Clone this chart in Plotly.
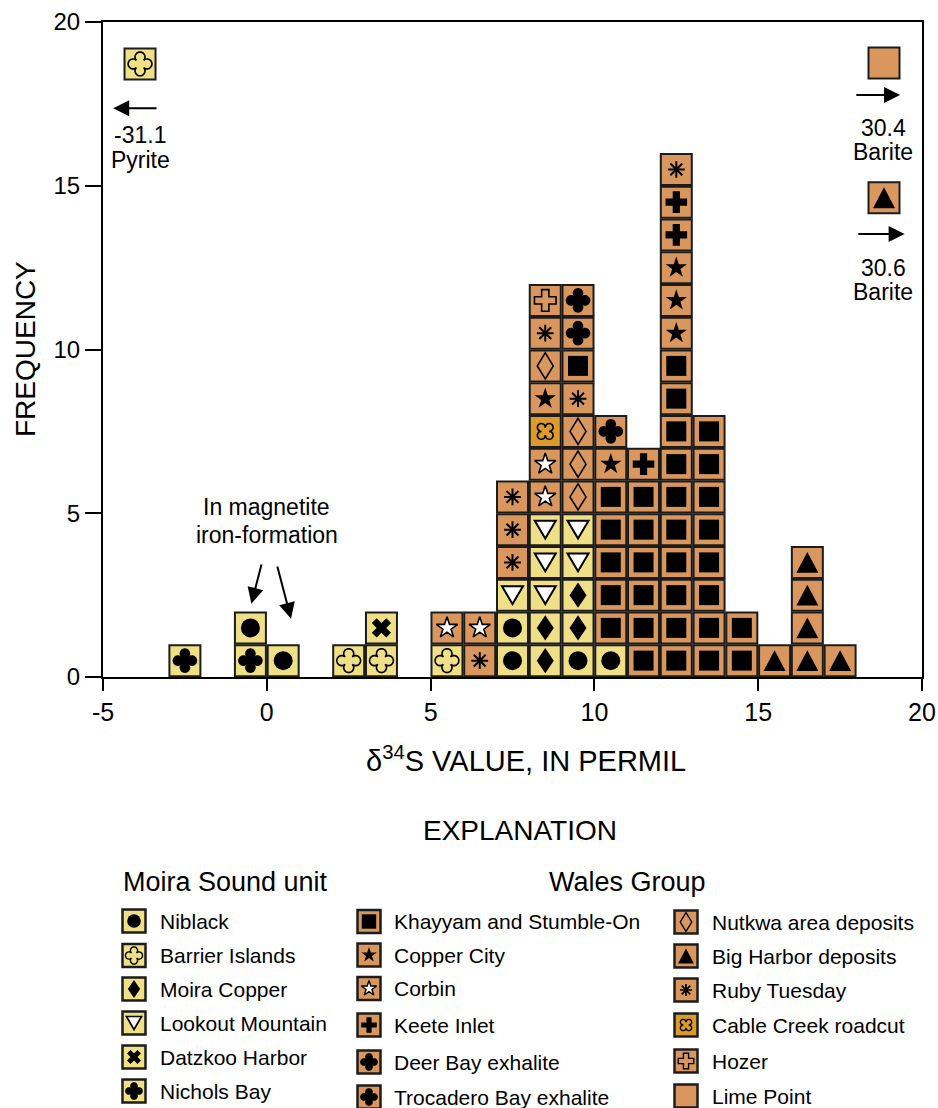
import math
import plotly.graph_objects as go

# ---------------------------------------------------------------------------
# Data: delta-34S histogram (1-permil bins), one square per analysis
# ---------------------------------------------------------------------------
bin_left = [-3, -1, 0, 2, 3, 5, 6, 7, 8, 9, 10, 11, 12, 13, 14, 15, 16, 17]
bin_stack = [  # deposit codes, bottom to top
    ["NI"],
    ["NI", "NB"],
    ["NB"],
    ["BI"],
    ["BI", "DH"],
    ["BI", "CO"],
    ["RT", "CO"],
    ["NB", "NB", "LM", "RT", "RT", "RT"],
    ["MC", "MC", "LM", "LM", "LM", "CO", "CO", "CR", "CC", "NU", "RT", "HO"],
    ["NB", "MC", "MC", "LM", "LM", "NU", "NU", "NU", "RT", "KS", "DB", "TB"],
    ["NB", "KS", "KS", "KS", "KS", "KS", "CC", "TB"],
    ["KS", "KS", "KS", "KS", "KS", "KS", "KI"],
    ["KS"] * 10 + ["CC", "CC", "CC", "KI", "KI", "RT"],
    ["KS"] * 8,
    ["KS", "KS"],
    ["BH"],
    ["BH", "BH", "BH", "BH"],
    ["BH"],
]

# analyses that plot off the scale
offscale_value = ["-31.1", "30.4", "30.6"]
offscale_code = ["BI", "LP", "BH"]
offscale_mineral = ["Pyrite", "Barite", "Barite"]

# deposits shown in the explanation
cat_code = ["NB", "BI", "MC", "LM", "DH", "NI",
            "KS", "CC", "CO", "KI", "DB", "TB",
            "NU", "BH", "RT", "CR", "HO", "LP"]
cat_name = ["Niblack", "Barrier Islands", "Moira Copper", "Lookout Mountain",
            "Datzkoo Harbor", "Nichols Bay",
            "Khayyam and Stumble-On", "Copper City", "Corbin", "Keete Inlet",
            "Deer Bay exhalite", "Trocadero Bay exhalite",
            "Nutkwa area deposits", "Big Harbor deposits", "Ruby Tuesday",
            "Cable Creek roadcut", "Hozer", "Lime Point"]
moira_codes = ["NB", "BI", "MC", "LM", "DH", "NI"]

x_ticks = [-5, 0, 5, 10, 15, 20]
x_tick_text = ["-5", "0", "5", "10", "15", "20"]
y_ticks = [0, 5, 10, 15, 20]

# ---------------------------------------------------------------------------
# Styling
# ---------------------------------------------------------------------------
W, H = 938, 1108
PX_L, PX_R, PX_T, PX_B = 103, 922, 22, 677   # main plot area in pixels
X_RANGE, Y_RANGE = [-5, 20], [0, 20]
UX = (PX_R - PX_L) / (X_RANGE[1] - X_RANGE[0])   # pixels per x unit
UY = (PX_B - PX_T) / (Y_RANGE[1] - Y_RANGE[0])   # pixels per y unit

YELLOW = "#EFDF86"
ORANGE = "#D9975E"
GOLD = "#DA9A2C"
EDGE = "#1c1c1c"
NARROW = "Liberation Sans Narrow, Arial Narrow, Liberation Sans, Arial, sans-serif"
REG = "Liberation Sans, Arial, Helvetica, sans-serif"


def fill_of(code):
    if code == "CR":
        return GOLD
    return YELLOW if code in moira_codes else ORANGE


QF_SOLID = dict(kind="quatrefoil", d=7.0, R=5.3, notch=5.6, alpha=108, rot=0, fill="black", lw=0)

STYLE = {
    "NB": dict(kind="marker", symbol="circle", size=19, color="black"),
    "BI": dict(kind="quatrefoil", d=6.9, R=5.0, notch=5.2, alpha=108, rot=0, fill=YELLOW, lw=1.6),
    "MC": dict(kind="diamond", w=17, h=25, fill="black", lw=0),
    "LM": dict(kind="triangle", w=21, h=18, down=True, fill="white", lw=2),
    "DH": dict(kind="marker", symbol="x", size=17, color="black"),
    "NI": QF_SOLID,
    "KS": dict(kind="marker", symbol="square", size=20, color="black"),
    "CC": dict(kind="marker", symbol="star", size=16, color="black"),
    "CO": dict(kind="marker", symbol="star", size=16, color="white", lw=1.6),
    "KI": dict(kind="marker", symbol="cross", size=18, color="black"),
    "DB": QF_SOLID,
    "TB": QF_SOLID,
    "NU": dict(kind="diamond", w=16, h=26, fill=ORANGE, lw=1.6),
    "BH": dict(kind="triangle", w=22, h=21, down=False, fill="black", lw=0),
    "RT": dict(kind="marker", symbol="asterisk-open", size=14, color="black", lw=2),
    "CR": dict(kind="quatrefoil", d=5.6, R=3.9, notch=3.9, alpha=110, rot=45, fill=GOLD, lw=1.6),
    "HO": dict(kind="marker", symbol="cross-open", size=18, color="black", lw=1.6),
    "LP": dict(kind="none"),
}


def quatrefoil_pts(d, R, notch, rot, alpha_deg, n=18):
    """Rounded cross: four round lobes joined by V-shaped notches."""
    alpha = math.radians(alpha_deg)
    pts = []
    for k in range(4):
        phi = math.radians(rot) + k * math.pi / 2
        cx, cy = d * math.cos(phi), d * math.sin(phi)
        for j in range(n + 1):
            th = phi - alpha + 2 * alpha * j / n
            pts.append((cx + R * math.cos(th), cy + R * math.sin(th)))
        nphi = phi + math.pi / 4
        pts.append((notch * math.cos(nphi), notch * math.sin(nphi)))
    return pts


def template_pts(st):
    if st["kind"] == "quatrefoil":
        return quatrefoil_pts(st["d"], st["R"], st["notch"], st["rot"], st["alpha"])
    if st["kind"] == "diamond":
        w, h = st["w"] / 2, st["h"] / 2
        return [(0, h), (w, 0), (0, -h), (-w, 0)]
    if st["kind"] == "triangle":
        w, h = st["w"] / 2, st["h"] / 2
        if st["down"]:
            return [(-w, h), (w, h), (0, -h)]
        return [(-w, -h), (w, -h), (0, h)]
    return []


shapes = []
marker_pts = {}   # (axes, code, scale) -> list of (x, y)


def add_symbol(code, x, y, axes, ppx, ppy, k):
    """Draw the inner glyph of a deposit at (x, y); ppx/ppy = data units per pixel."""
    st = STYLE[code]
    if st["kind"] == "none":
        return
    if st["kind"] == "marker":
        marker_pts.setdefault((axes, code, k), []).append((x, y))
        return
    pts = template_pts(st)
    path = "M" + " L".join(f"{x + px * k * ppx:.4f},{y + py * k * ppy:.4f}" for px, py in pts) + " Z"
    xr, yr = ("x", "y") if axes == "main" else ("x2", "y2")
    lw = st["lw"] * (1 if k == 1 else 0.85)
    shapes.append(dict(type="path", path=path, xref=xr, yref=yr, layer="above",
                       fillcolor=st["fill"],
                       line=dict(color="black", width=lw if lw > 0 else 0)))


fig = go.Figure()

# ---- histogram squares ----------------------------------------------------
sq_x, sq_y, sq_c = [], [], []
for left, stack in zip(bin_left, bin_stack):
    for row, code in enumerate(stack):
        sq_x.append(left + 0.5)
        sq_y.append(row + 0.5)
        sq_c.append(fill_of(code))
        add_symbol(code, left + 0.5, row + 0.5, "main", 1 / UX, 1 / UY, 1)

# off-scale analyses, placed at the plot edges with arrows
off_pos = [(-3.87, 18.72), (18.84, 18.75), (18.84, 14.63)]
for (ox, oy), code in zip(off_pos, offscale_code):
    sq_x.append(ox)
    sq_y.append(oy)
    sq_c.append(fill_of(code))
    add_symbol(code, ox, oy, "main", 1 / UX, 1 / UY, 1)

fig.add_trace(go.Scatter(
    x=sq_x, y=sq_y, mode="markers", hoverinfo="skip", showlegend=False,
    marker=dict(symbol="square", size=31, color=sq_c, line=dict(color=EDGE, width=2)),
))

# ---- explanation (legend) -------------------------------------------------
leg_cols = [(134, 158), (369, 392), (686, 710)]
leg_rows = [
    [921, 955.5, 989, 1023, 1057, 1091],
    [921.5, 955, 988.5, 1025, 1062, 1097],
    [922, 956, 990, 1025, 1061, 1096],
]
leg_x, leg_y, leg_c = [], [], []
annotations = []
for ci, (sx, tx) in enumerate(leg_cols):
    for ri in range(6):
        code = cat_code[ci * 6 + ri]
        ly = leg_rows[ci][ri]
        leg_x.append(sx)
        leg_y.append(ly)
        leg_c.append(fill_of(code))
        add_symbol(code, sx, ly, "legend", 1, -1, 0.72)
        annotations.append(dict(x=tx, y=ly, xref="x2", yref="y2", text=cat_name[ci * 6 + ri],
                                showarrow=False, xanchor="left", yanchor="middle",
                                font=dict(family=REG, size=21, color="black")))

fig.add_trace(go.Scatter(
    x=leg_x, y=leg_y, xaxis="x2", yaxis="y2", mode="markers", hoverinfo="skip",
    showlegend=False,
    marker=dict(symbol="square", size=23, color=leg_c, line=dict(color=EDGE, width=2.5)),
))

# inner marker glyphs
for (axes, code, k), pts in marker_pts.items():
    st = STYLE[code]
    kw = dict(xaxis="x2", yaxis="y2") if axes == "legend" else {}
    lw = st.get("lw", 0) * (1 if k == 1 else 0.85)
    fig.add_trace(go.Scatter(
        x=[p[0] for p in pts], y=[p[1] for p in pts], mode="markers",
        hoverinfo="skip", showlegend=False,
        marker=dict(symbol=st["symbol"], size=st["size"] * k, color=st["color"],
                    line=dict(color="black", width=lw)),
        **kw,
    ))

# ---- headings ---------------------------------------------------------------
for txt, x, y, size in [("EXPLANATION", 520, 830, 28), ("Moira Sound unit", 225, 882, 27),
                        ("Wales Group", 627, 882, 27)]:
    annotations.append(dict(x=x, y=y, xref="x2", yref="y2", text=txt, showarrow=False,
                            xanchor="center", yanchor="middle",
                            font=dict(family=REG, size=size, color="black")))

annotations.append(dict(x=526, y=759, xref="x2", yref="y2",
                        text="\u03b4<sup>34</sup>S VALUE, IN PERMIL", showarrow=False,
                        xanchor="center", yanchor="middle",
                        font=dict(family=NARROW, size=29, color="black")))
annotations.append(dict(x=25, y=349, xref="x2", yref="y2", text="FREQUENCY",
                        showarrow=False, textangle=-90, xanchor="center", yanchor="middle",
                        font=dict(family=REG, size=28, color="black")))

# ---- off-scale labels and arrows -------------------------------------------
lab_font = dict(family=NARROW, size=23, color="black")
off_text = [(-3.87, 16.56, 15.79), (18.81, 16.76, 16.03), (18.81, 12.49, 11.76)]
for (tx, y1, y2), val, mineral in zip(off_text, offscale_value, offscale_mineral):
    annotations.append(dict(x=tx, y=y1, text=val, showarrow=False, font=lab_font))
    annotations.append(dict(x=tx, y=y2, text=mineral, showarrow=False, font=lab_font))

arrow_specs = [  # head (x, y), tail (x, y)
    ((-4.69, 17.37), (-3.32, 17.37)),
    ((19.33, 17.77), (17.95, 17.77)),
    ((19.47, 13.53), (18.01, 13.53)),
    ((-0.47, 2.24), (-0.15, 3.48)),
    ((0.74, 1.78), (0.31, 3.42)),
]
for (hx, hy), (tx, ty) in arrow_specs:
    annotations.append(dict(x=hx, y=hy, ax=tx, ay=ty, axref="x", ayref="y", text="",
                            showarrow=True, arrowhead=2, arrowsize=1.6, arrowwidth=2,
                            arrowcolor="black", standoff=0, startstandoff=0))

annotations.append(dict(x=0.0, y=5.19, text="In magnetite", showarrow=False, font=lab_font))
annotations.append(dict(x=0.0, y=4.34, text="iron-formation", showarrow=False, font=lab_font))

# ---------------------------------------------------------------------------
fig.update_layout(
    width=W, height=H, margin=dict(l=0, r=0, t=0, b=0),
    paper_bgcolor="white", plot_bgcolor="rgba(0,0,0,0)",
    showlegend=False,
    shapes=shapes, annotations=annotations,
    xaxis=dict(domain=[PX_L / W, PX_R / W], range=X_RANGE,
               tickvals=x_ticks, ticktext=x_tick_text,
               ticks="outside", ticklen=12, tickwidth=2, tickcolor="black",
               showline=True, linewidth=2, linecolor="black", mirror=True,
               showgrid=False, zeroline=False, automargin=False,
               tickfont=dict(family=NARROW, size=25, color="black")),
    yaxis=dict(domain=[1 - PX_B / H, 1 - PX_T / H], range=Y_RANGE, tickvals=y_ticks,
               ticks="outside", ticklen=16, tickwidth=2, tickcolor="black",
               showline=True, linewidth=2, linecolor="black", mirror=True,
               showgrid=False, zeroline=False, automargin=False,
               tickfont=dict(family=REG, size=24, color="black")),
    xaxis2=dict(domain=[0, 1], range=[0, W], visible=False, anchor="y2"),
    yaxis2=dict(domain=[0, 1], range=[H, 0], visible=False, anchor="x2"),
)

fig.write_html("out.html")
